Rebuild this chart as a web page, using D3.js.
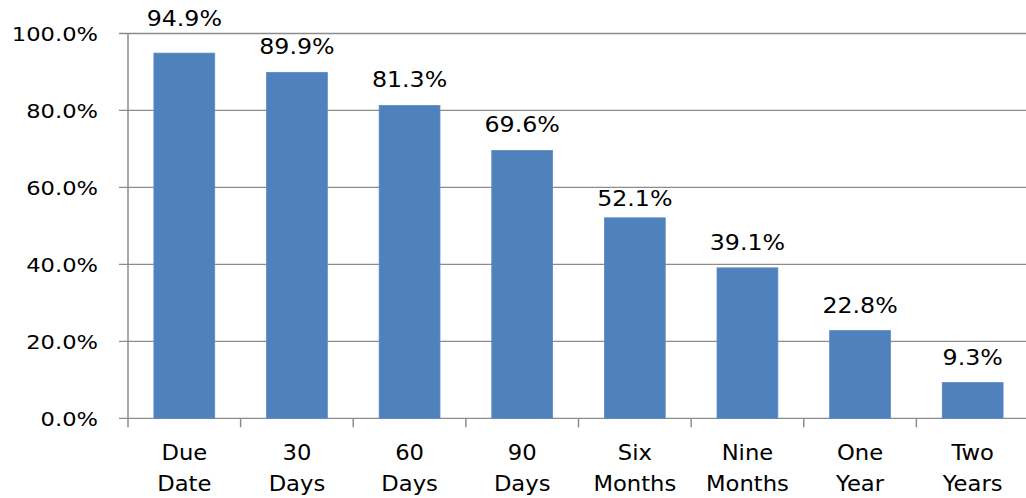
<!DOCTYPE html>
<html>
<head>
<meta charset="utf-8">
<script src="https://cdn.jsdelivr.net/npm/d3@7"></script>
<style>
	html, body { margin: 0; padding: 0; background: #fff; }
	svg { display: block; }
	text { font-family: "DejaVu Sans", Verdana, sans-serif; fill: #000; }
</style>
</head>
<body>
<div id="chart"></div>
<script>
// chart values
const categories = [['Due', 'Date'], ['30', 'Days'], ['60', 'Days'], ['90', 'Days'],
	['Six', 'Months'], ['Nine', 'Months'], ['One', 'Year'], ['Two', 'Years']];
const values = [94.9, 89.9, 81.3, 69.6, 52.1, 39.1, 22.8, 9.3];
const yTicks = [0, 20, 40, 60, 80, 100];

let width      = 1026,
	height     = 498,
	plotLeft   = 128,
	plotRight  = 1029,
	plotTop    = 33.5,
	plotBottom = 418.3,
	stretch    = 1.13,
	capH       = 15;

let svg = d3.select('#chart').append('svg')
	.attr('width', width)
	.attr('height', height);

let x = d3.scaleBand()
	.domain(d3.range(categories.length))
	.range([plotLeft, plotRight]);

let y = d3.scaleLinear()
	.domain([0, 100])
	.range([plotBottom, plotTop]);

let barW = x.bandwidth() * 0.54;

// gridlines + y ticks
svg.append('g').selectAll('line')
	.data(yTicks)
	.join('line')
	.attr('x1', plotLeft - 9)
	.attr('x2', plotRight)
	.attr('y1', d => y(d))
	.attr('y2', d => y(d))
	.attr('stroke', '#8c8c8c')
	.attr('stroke-width', 1.3);

svg.append('g').selectAll('text')
	.data(yTicks)
	.join('text')
	.attr('transform', d => 'translate(98,' + (y(d) + 7.5) + ') scale(' + stretch + ',1)')
	.attr('text-anchor', 'end')
	.style('font-size', '20px')
	.text(d => d3.format('.1f')(d) + '%');

// y axis line
svg.append('line')
	.attr('x1', plotLeft).attr('x2', plotLeft)
	.attr('y1', plotTop).attr('y2', plotBottom)
	.attr('stroke', '#8c8c8c')
	.attr('stroke-width', 1.5);

// x ticks between categories
svg.append('g').selectAll('line')
	.data(d3.range(categories.length + 1))
	.join('line')
	.attr('x1', i => plotLeft + i * x.step())
	.attr('x2', i => plotLeft + i * x.step())
	.attr('y1', plotBottom)
	.attr('y2', plotBottom + 9)
	.attr('stroke', '#8c8c8c')
	.attr('stroke-width', 1.5);

// bars
svg.append('g').selectAll('rect')
	.data(values)
	.join('rect')
	.attr('x', (d, i) => x(i) + (x.bandwidth() - barW) / 2)
	.attr('y', d => y(d))
	.attr('width', barW)
	.attr('height', d => y(0) - y(d))
	.attr('fill', '#4f81bd')
	.attr('stroke', '#5b8bc6')
	.attr('stroke-width', 0.8);

// label baseline: 18px over the bar, nudged off any gridline it would cross
function labelY(d) {
	let base = y(d) - 18;
	yTicks.forEach(t => {
		let g = y(t);
		if (g > base - capH - 1 && g < base + 2) {
			if (base - g < capH / 2) base = g - 7.5;
			else base = g + capH + 4;
		}
	});
	return base;
}

// value labels
svg.append('g').selectAll('text')
	.data(values)
	.join('text')
	.attr('transform', (d, i) => 'translate(' + (x(i) + x.bandwidth() / 2) + ',' + labelY(d) + ') scale(' + stretch + ',1)')
	.attr('text-anchor', 'middle')
	.style('font-size', '21px')
	.text(d => d.toFixed(1) + '%');

// category labels, two lines each
let cat = svg.append('g').selectAll('g')
	.data(categories)
	.join('g')
	.attr('transform', (d, i) => 'translate(' + (x(i) + x.bandwidth() / 2) + ',0)');

cat.selectAll('text')
	.data(d => d)
	.join('text')
	.attr('transform', (d, j) => 'translate(0,' + (460 + j * 31) + ') scale(1.08,1)')
	.attr('text-anchor', 'middle')
	.style('font-size', '21px')
	.text(d => d);
</script>
</body>
</html>
